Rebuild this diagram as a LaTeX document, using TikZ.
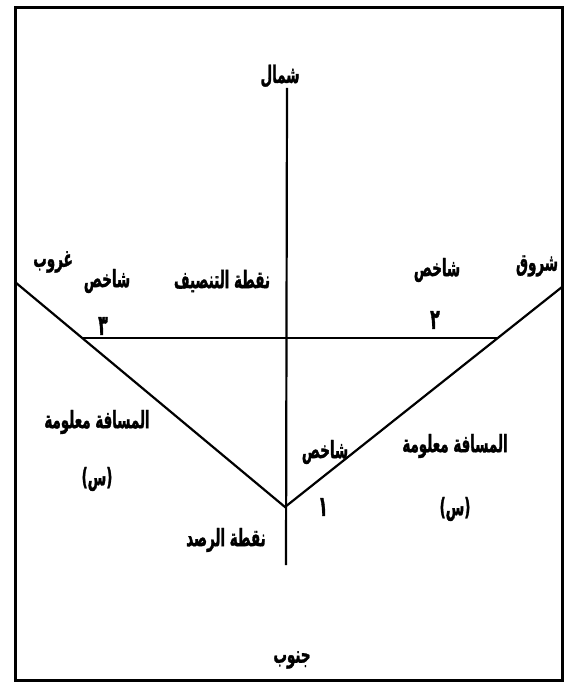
\documentclass[tikz,border=0pt]{standalone}
\usepackage{fontspec}
\newfontfamily\arabicfont[Script=Arabic, FakeStretch=0.56, BoldFeatures={FakeBold=1.2}]{DejaVu Sans}
\TeXXeTstate=1
\usetikzlibrary{calc}

\begin{document}
\begin{tikzpicture}[x=0.5pt, y=-0.5pt,
 lbl/.style={font=\arabicfont\bfseries\fontsize{12}{13}\selectfont, inner sep=1pt},
 num/.style={lbl, font=\arabicfont\bfseries\fontsize{14}{15}\selectfont},
 ln/.style={line width=1.1pt}]
\useasboundingbox (0,0) rectangle (569,684);
\draw[line width=1.5pt] (15,8) rectangle (562,680);
\coordinate (north) at (287,88);
\coordinate (south) at (286,565);
\coordinate (obs) at (285,507);
\coordinate (west) at (15,282);
\coordinate (east) at (562,287);
\coordinate (s3) at (82,338);
\coordinate (s2) at (498,338);
\draw[ln] (north) -- (south);
\draw[ln] (west) -- (obs) -- (east);
\draw[ln] (s3) -- (s2);
\node[lbl] (shamal) at (280,76) {\beginR شمال\endR};
\node[lbl] (janub) at (292,660) {\beginR جنوب\endR};
\node[lbl] (ghurub) at (53,262) {\beginR غروب\endR};
\node[lbl] (shuruq) at (537,266) {\beginR شروق\endR};
\node[lbl] (shakhes3) at (107,281) {\beginR شاخص\endR};
\node[lbl] (tansif) at (222,281) {\beginR نقطة التنصيف\endR};
\node[lbl] (shakhes2) at (437,270) {\beginR شاخص\endR};
\node[num] (n3) at (103,326) {\beginR ٣\endR};
\node[num] (n2) at (435,320) {\beginR ٢\endR};
\node[lbl] (shakhes1) at (325,452) {\beginR شاخص\endR};
\node[num] (n1) at (323,507) {\beginR ١\endR};
\node[lbl] (rasd) at (226,540) {\beginR نقطة الرصد\endR};
\node[lbl] (distw) at (97,422) {\beginR المسافة معلومة\endR};
\node[lbl] (sinw) at (97,479) {\beginR (س)\endR};
\node[lbl] (diste) at (455,446) {\beginR المسافة معلومة\endR};
\node[lbl] (sine) at (455,509) {\beginR (س)\endR};
\end{tikzpicture}
\end{document}
